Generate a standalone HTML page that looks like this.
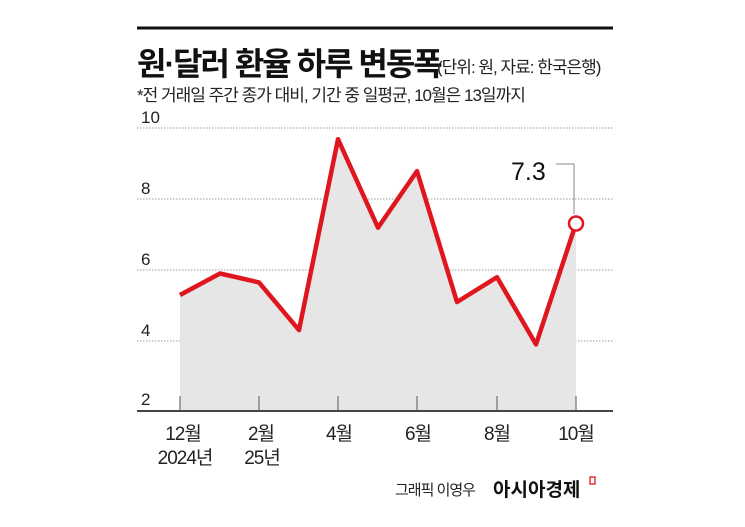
<!DOCTYPE html>
<html><head><meta charset="utf-8"><style>
body{margin:0;background:#fff;width:745px;height:522px;overflow:hidden;font-family:"Liberation Sans","Noto Sans CJK KR",sans-serif}
</style></head><body>
<svg width="745" height="522" xmlns="http://www.w3.org/2000/svg" font-family="Liberation Sans, Noto Sans CJK KR, sans-serif">
<line x1="137" y1="28" x2="613" y2="28" stroke="#111" stroke-width="3"/>
<text x="137" y="75" font-size="32" font-weight="bold" fill="#111" letter-spacing="-2">원·달러 환율 하루 변동폭</text>
<text x="437" y="73" font-size="17" fill="#222" letter-spacing="-1">(단위: 원, 자료: 한국은행)</text>
<text x="137" y="101" font-size="17" fill="#222" letter-spacing="-1">*전 거래일 주간 종가 대비, 기간 중 일평균, 10월은 13일까지</text>
<g stroke="#999" stroke-dasharray="1.5,1.5" stroke-width="1">
<line x1="137" y1="128" x2="613" y2="128"/><line x1="137" y1="199" x2="613" y2="199"/>
<line x1="137" y1="270" x2="613" y2="270"/><line x1="137" y1="341" x2="613" y2="341"/>
</g>
<g font-size="17" fill="#222">
<text x="141" y="123">10</text><text x="141" y="194">8</text><text x="141" y="265">6</text><text x="141" y="336">4</text><text x="141" y="405">2</text>
</g>
<polygon fill="#e6e6e6" points="180,411 180,295 220,273.5 259,282.4 299,330.1 338,139.2 378,227.7 417,171.1 457,302 497,277.2 536,344.4 576,223.5 576,411"/>
<g stroke="#555" stroke-width="1">
<line x1="180" y1="396" x2="180" y2="411"/><line x1="259" y1="396" x2="259" y2="411"/>
<line x1="338" y1="396" x2="338" y2="411"/><line x1="417" y1="396" x2="417" y2="411"/>
<line x1="497" y1="396" x2="497" y2="411"/><line x1="576" y1="396" x2="576" y2="411"/>
</g>
<line x1="137" y1="411" x2="613" y2="411" stroke="#444" stroke-width="2"/>
<polyline fill="none" stroke="#e0161e" stroke-width="4.5" stroke-linejoin="round" points="180,295 220,273.5 259,282.4 299,330.1 338,139.2 378,227.7 417,171.1 457,302 497,277.2 536,344.4 576,223.5"/>
<polyline fill="none" stroke="#888" stroke-width="1" points="556,164 574,164 574,214"/>
<circle cx="576" cy="223.5" r="7" fill="#fff" stroke="#e0161e" stroke-width="2.5"/>
<text x="511" y="180" font-size="25" fill="#111">7.3</text>
<g font-size="19" fill="#222" text-anchor="middle" letter-spacing="-1">
<text x="183" y="440">12월</text><text x="185" y="464">2024년</text>
<text x="261" y="440">2월</text><text x="262" y="464">25년</text>
<text x="339" y="440">4월</text><text x="418" y="440">6월</text><text x="497" y="440">8월</text><text x="576" y="440">10월</text>
</g>
<text x="395" y="495" font-size="15" fill="#222" letter-spacing="-1">그래픽 이영우</text>
<text x="493" y="496" font-size="19" font-weight="bold" fill="#111">아시아경제</text>
<rect x="590" y="477" width="5" height="7" fill="none" stroke="#e0161e" stroke-width="1.3"/>
</svg>
</body></html>
